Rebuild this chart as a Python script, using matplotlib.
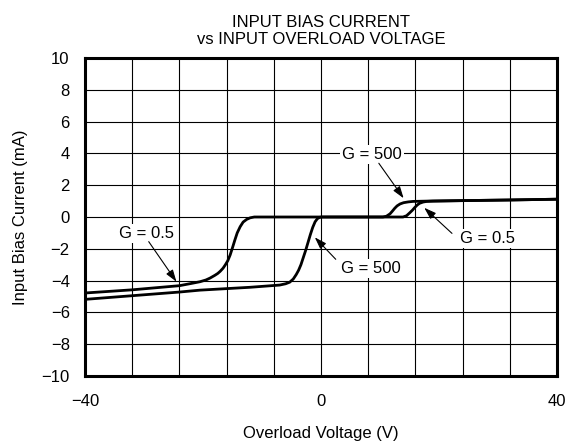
from matplotlib import pyplot as plt
import numpy as np

plt.rcParams['font.family'] = ['Liberation Sans', 'DejaVu Sans']

# G = 0.5 curve
v_g05 = [-40, -32, -24, -22, -20.5, -19.5, -18.8, -18.0, -17.5, -17.1, -16.6, -16.2, -15.8,
         -15.4, -15.0, -14.6, -14.2, -13.7, -13.2, -12.6, -12.0, -11.3, 0, 8, 13.9, 14.5,
         15.0, 15.5, 15.9, 16.3, 16.7, 17.3, 17.9, 19.0, 24, 32, 40]
i_g05 = [-4.78, -4.58, -4.32, -4.18, -4.07, -3.96, -3.84, -3.67, -3.55, -3.42, -3.22, -3.0, -2.75,
         -2.39, -1.93, -1.45, -1.0, -0.61, -0.32, -0.15, -0.05, 0, 0, 0, 0, 0.08,
         0.25, 0.43, 0.6, 0.75, 0.86, 0.94, 0.98, 1.0, 1.03, 1.07, 1.12]

# G = 500 curve
v_g500 = [-40, -32, -24, -20.5, -12, -7, -6, -5.3, -4.7, -4.2, -3.8, -3.4, -3.0, -2.6,
          -2.2, -1.8, -1.4, -1.0, -0.6, -0.2, 0.2, 4, 10.5, 11.1, 11.7, 12.1, 12.5,
          12.9, 13.4, 14.0, 14.8, 15.6, 18, 24, 32, 40]
i_g500 = [-5.18, -4.95, -4.72, -4.6, -4.42, -4.28, -4.2, -4.1, -3.9, -3.62, -3.35, -3.0, -2.55, -2.1,
          -1.6, -1.1, -0.65, -0.3, -0.1, -0.02, 0, 0, 0, 0.05, 0.2, 0.37, 0.55,
          0.7, 0.82, 0.9, 0.95, 0.98, 1.0, 1.03, 1.07, 1.12]

xticks = np.arange(-40, 41, 8)
xticklabels = ['' if t not in (-40, 0, 40) else ('\u221240' if t == -40 else str(t)) for t in xticks]
yticks = np.arange(-10, 11, 2)

# annotations: label, text position, arrow start, arrow tip
notes = [
    ('G = 500', (8.7, 3.9), (9.8, 3.38), (14.0, 1.18)),
    ('G = 0.5', (28.2, -1.34), (22.2, -1.03), (17.5, 0.58)),
    ('G = 500', (8.4, -3.23), (2.5, -2.66), (-1.05, -1.28)),
    ('G = 0.5', (-29.6, -1.03), (-29.2, -1.55), (-24.5, -4.07)),
]

fig = plt.figure(figsize=(5.67, 4.45), dpi=100)
ax = fig.add_axes([85/567, 69/445, 472/567, 318/445])

ax.plot(v_g05, i_g05, color='black', lw=2, solid_joinstyle='round', zorder=3)
ax.plot(v_g500, i_g500, color='black', lw=2, solid_joinstyle='round', zorder=3)

ax.set_xlim(-40, 40)
ax.set_ylim(-10, 10)
ax.set_xticks(xticks)
ax.set_xticklabels(xticklabels)
ax.set_yticks(yticks)
ax.tick_params(length=0, labelsize=12)
ax.tick_params(axis='x', pad=13)
ax.tick_params(axis='y', pad=11)
ax.grid(True, color='black', lw=0.8)
for s in ax.spines.values():
    s.set_linewidth(2.2)

ax.set_xlabel('Overload Voltage (V)', size=12, labelpad=12)
ax.set_ylabel('Input Bias Current (mA)', size=12, labelpad=10)
ax.set_title('INPUT BIAS CURRENT\nvs INPUT OVERLOAD VOLTAGE', size=12, pad=10)

for label, tpos, start, tip in notes:
    ax.text(tpos[0], tpos[1], label, size=12, ha='center', va='center', zorder=4,
            bbox=dict(facecolor='white', edgecolor='none', pad=1.5))
    ax.annotate('', xy=tip, xytext=start, zorder=4,
                arrowprops=dict(arrowstyle='-|>,head_length=0.6,head_width=0.2', color='black',
                                lw=0.8, mutation_scale=12, shrinkA=0, shrinkB=0))

fig.savefig('out.png', dpi=100)
